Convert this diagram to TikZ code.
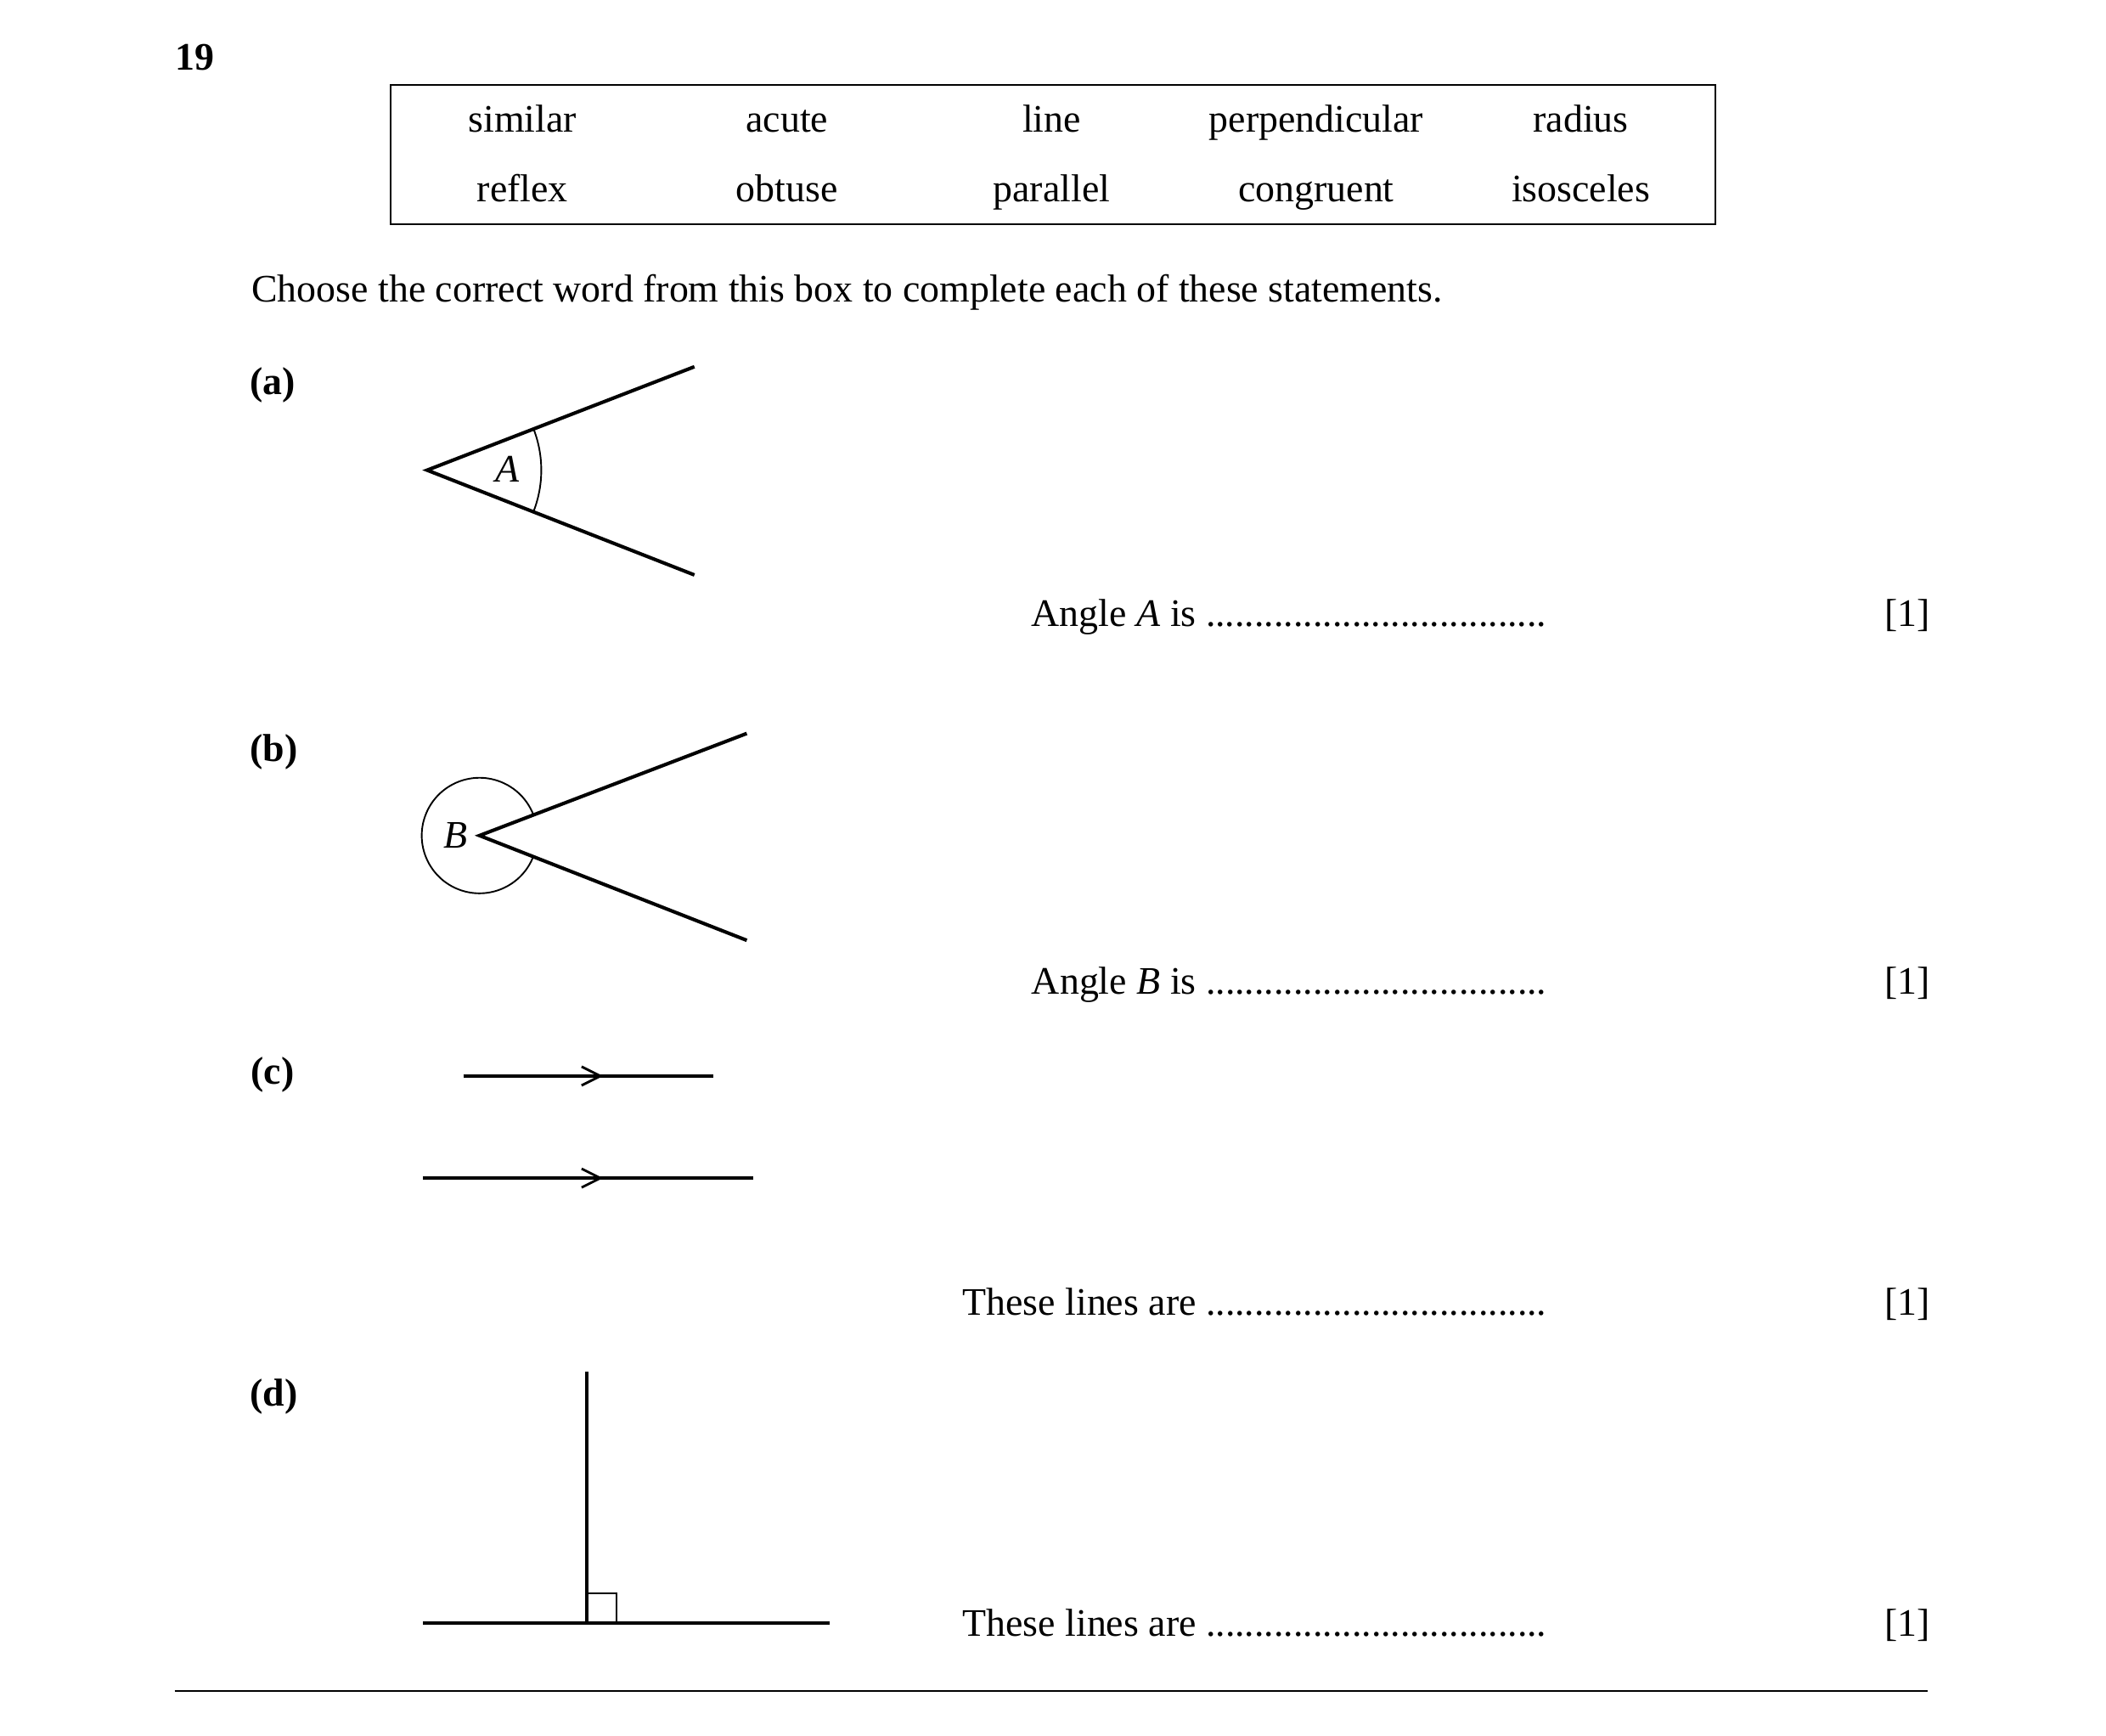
\documentclass[tikz,border=0pt]{standalone}
\usepackage{fontspec}
\setmainfont{Liberation Serif}
\begin{document}
\begin{tikzpicture}[x=0.5pt,y=-0.5pt,
  t/.style={font=\fontsize{14.5}{17}\selectfont,inner sep=0pt},
  thick line/.style={line width=1.3pt},
  thin line/.style={line width=0.6pt}]
\useasboundingbox (0,0) rectangle (1568,1292);
\node[t,font=\fontsize{14.5}{17}\selectfont\bfseries] (n19) at (145,43) {19};
\draw[thin line] (291,63) rectangle (1277,167);
\foreach \w [count=\i] in {similar,acute,line,perpendicular,radius}
  \node[t,anchor=base] (r1\i) at ({389+197*(\i-1)},98) {\w};
\foreach \w [count=\i] in {reflex,obtuse,parallel,congruent,isosceles}
  \node[t,anchor=base] (r2\i) at ({389+197*(\i-1)},150) {\w};
\node[t,anchor=base west] (choose) at (187,225) {Choose the correct word from this box to complete each of these statements.};
% (a)
\node[t,font=\fontsize{14.5}{17}\selectfont\bfseries] (pa) at (203,287) {(a)};
\coordinate (A) at (318,350);
\draw[thick line] (517,273) -- (A) -- (517,428);
\draw[thin line] (A) ++(21:85) arc[start angle=21,end angle=-21,radius=85];
\node[t,font=\fontsize{14.5}{17}\selectfont\itshape] (la) at (378,349) {A};
\node[t,anchor=base east] (sa) at (1152,466) {Angle \textit{A} is ...................................};
\node[t,anchor=base] (ma) at (1420,466) {[1]};
% (b)
\node[t,font=\fontsize{14.5}{17}\selectfont\bfseries] (pb) at (204,560) {(b)};
\coordinate (B) at (357,622);
\draw[thick line] (556,546) -- (B) -- (556,700);
\draw[thin line] (B) ++(21:43) arc[start angle=21,end angle=339,radius=43];
\node[t,font=\fontsize{14.5}{17}\selectfont\itshape] (lb) at (339,622) {B};
\node[t,anchor=base east] (sb) at (1152,740) {Angle \textit{B} is ...................................};
\node[t,anchor=base] (mb) at (1420,740) {[1]};
% (c)
\node[t,font=\fontsize{14.5}{17}\selectfont\bfseries] (pc) at (203,800) {(c)};
\draw[thick line] (345,801) -- (531,801);
\draw[thick line] (315,877) -- (561,877);
\draw[line width=0.9pt] (433,794) -- (447,801) -- (433,808);
\draw[line width=0.9pt] (433,870) -- (447,877) -- (433,884);
\node[t,anchor=base east] (sc) at (1152,979) {These lines are ...................................};
\node[t,anchor=base] (mc) at (1420,979) {[1]};
% (d)
\node[t,font=\fontsize{14.5}{17}\selectfont\bfseries] (pd) at (204,1040) {(d)};
\draw[thick line] (437,1021) -- (437,1208);
\draw[thick line] (315,1208) -- (618,1208);
\draw[thin line] (437,1186) rectangle (459,1208);
\node[t,anchor=base east] (sd) at (1152,1218) {These lines are ...................................};
\node[t,anchor=base] (md) at (1420,1218) {[1]};
\draw[thin line] (130,1259) -- (1435,1259);
\end{tikzpicture}
\end{document}
